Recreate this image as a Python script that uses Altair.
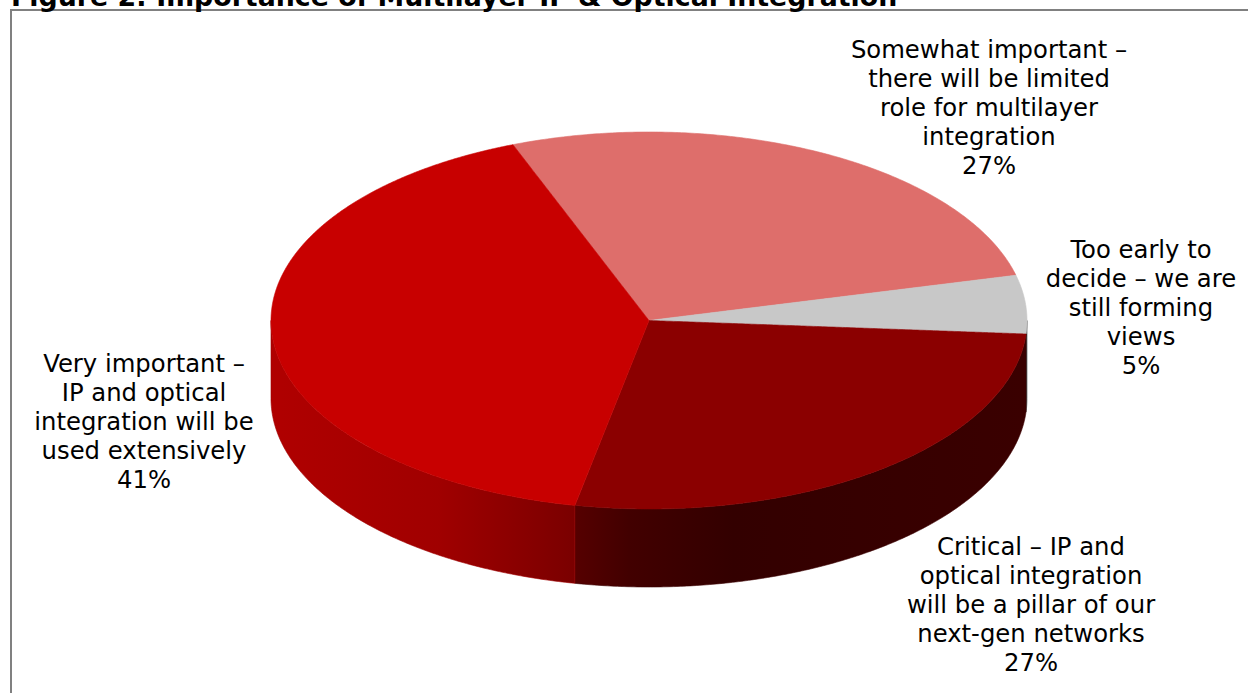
import math
import altair as alt
import pandas as pd

CANVAS_W, CANVAS_H = 1248, 693

TITLE = "Figure 2: Importance of Multilayer IP & Optical Integration"

# Pie slices, clockwise from the first wedge
values = [27, 5, 27, 41]
top_colors = ["#DE6E6B", "#C8C8C8", "#8B0000", "#C80000"]
label_lines = [
    ["Somewhat important –", "there will be limited", "role for multilayer", "integration"],
    ["Too early to", "decide – we are", "still forming", "views"],
    ["Critical – IP and", "optical integration", "will be a pillar of our", "next-gen networks"],
    ["Very important –", "IP and optical", "integration will be", "used extensively"],
]

# Label block placement: centre x and the y of each of the five lines
label_x = [989, 1141, 1031, 144]
label_y = [
    [51, 80, 109, 138, 167],
    [251, 280, 309, 338, 367],
    [548, 577, 606, 635, 664],
    [365, 394, 423, 452, 481],
]

# Tilted disc geometry
CX, CY, RX, RY, DEPTH = 649, 320.5, 378, 188.5, 78
START_DEG = -21.1


def ellipse_point(deg):
    rad = math.radians(deg)
    return CX + RX * math.sin(rad), CY - RY * math.cos(rad)


def envelope(polygon):
    """Turn a convex polygon into x / y / y2 rows an area mark can draw."""
    xs = sorted({round(p[0], 2) for p in polygon})
    rows = []
    edges = list(zip(polygon, polygon[1:] + polygon[:1]))
    for x in xs:
        hits = []
        for (x0, y0), (x1, y1) in edges:
            lo, hi = min(x0, x1) - 0.01, max(x0, x1) + 0.01
            if lo <= x <= hi:
                if abs(x1 - x0) < 1e-6:
                    hits += [y0, y1]
                else:
                    t = min(1, max(0, (x - x0) / (x1 - x0)))
                    hits.append(y0 + t * (y1 - y0))
        rows.append({"x": x, "y": min(hits), "y2": max(hits)})
    return rows


# Cumulative slice angles derived from the shares
total = sum(values)
angles = [START_DEG]
for v in values:
    angles.append(angles[-1] + v / total * 360)

x_enc = alt.X("x:Q", scale=alt.Scale(domain=[0, CANVAS_W]), axis=None)
y_enc = alt.Y("y:Q", scale=alt.Scale(domain=[CANVAS_H, 0]), axis=None)


def area_layer(rows, fill, stroke):
    return alt.Chart(pd.DataFrame(rows)).mark_area(
        color=fill, stroke=stroke, strokeWidth=0.6, interpolate="linear"
    ).encode(x=x_enc, y=y_enc, y2="y2:Q")


def wall_rows(a0, a1):
    n = max(2, int((a1 - a0) * 2))
    rows = []
    for i in range(n + 1):
        x, y = ellipse_point(a0 + (a1 - a0) * i / n)
        rows.append({"x": x, "y": y, "y2": y + DEPTH})
    return rows


def horizontal_gradient(stops):
    return alt.Gradient(
        gradient="linear", x1=0, x2=1, y1=0, y2=0,
        stops=[alt.GradientStop(offset=o, color=c) for o, c in stops],
    )


# Front wall of the disc, one shaded band per visible slice
wall_styles = [
    (90, angles[2], horizontal_gradient([(0, "#3A3A3A"), (1, "#555555")]), "#444444"),
    (angles[2], angles[3],
     horizontal_gradient([(0, "#560000"), (0.12, "#420000"), (0.35, "#330000"), (1, "#3A0000")]),
     "#3A0000"),
    (angles[3], 270,
     horizontal_gradient([(0, "#B00000"), (0.55, "#A00000"), (1, "#7A0000")]),
     "#A00000"),
]
layers = [area_layer(wall_rows(a0, a1), fill, stroke) for a0, a1, fill, stroke in wall_styles]

# Top face of the disc
for i, color in enumerate(top_colors):
    a0, a1 = angles[i], angles[i + 1]
    n = max(2, int((a1 - a0) * 2))
    outline = [(CX, CY)] + [ellipse_point(a0 + (a1 - a0) * k / n) for k in range(n + 1)]
    layers.append(area_layer(envelope(outline), color, color))

# Frame around the figure
frame_left = alt.Chart(pd.DataFrame({"x": [11], "y": [10], "y2": [CANVAS_H]})).mark_rule(
    color="#808080", strokeWidth=2
).encode(x=x_enc, y=y_enc, y2="y2:Q")
frame_top = alt.Chart(pd.DataFrame({"x": [10], "x2": [CANVAS_W], "y": [10]})).mark_rule(
    color="#808080", strokeWidth=2
).encode(x=x_enc, x2="x2:Q", y=y_enc)

# Slice labels: wrapped description followed by the share
text_rows = []
for lines, value, lx, ly in zip(label_lines, values, label_x, label_y):
    for line, y in zip(lines + [f"{value}%"], ly):
        text_rows.append({"x": lx, "y": y, "text": line})
labels = alt.Chart(pd.DataFrame(text_rows)).mark_text(
    font="DejaVu Sans", fontSize=24.3, color="#000000", align="center", baseline="middle"
).encode(x=x_enc, y=y_enc, text="text:N")

title = alt.Chart(pd.DataFrame({"x": [11], "y": [6], "text": [TITLE]})).mark_text(
    font="DejaVu Sans", fontWeight="bold", fontSize=26.8, color="#000000",
    align="left", baseline="alphabetic"
).encode(x=x_enc, y=y_enc, text="text:N")

chart = alt.layer(*layers, frame_left, frame_top, labels, title).properties(
    width=CANVAS_W, height=CANVAS_H, padding=0, autosize=alt.AutoSizeParams(type="none"),
    background="#FFFFFF",
).configure_view(stroke=None)

chart.save("out.html", embed_options={"renderer": "svg", "actions": False})
